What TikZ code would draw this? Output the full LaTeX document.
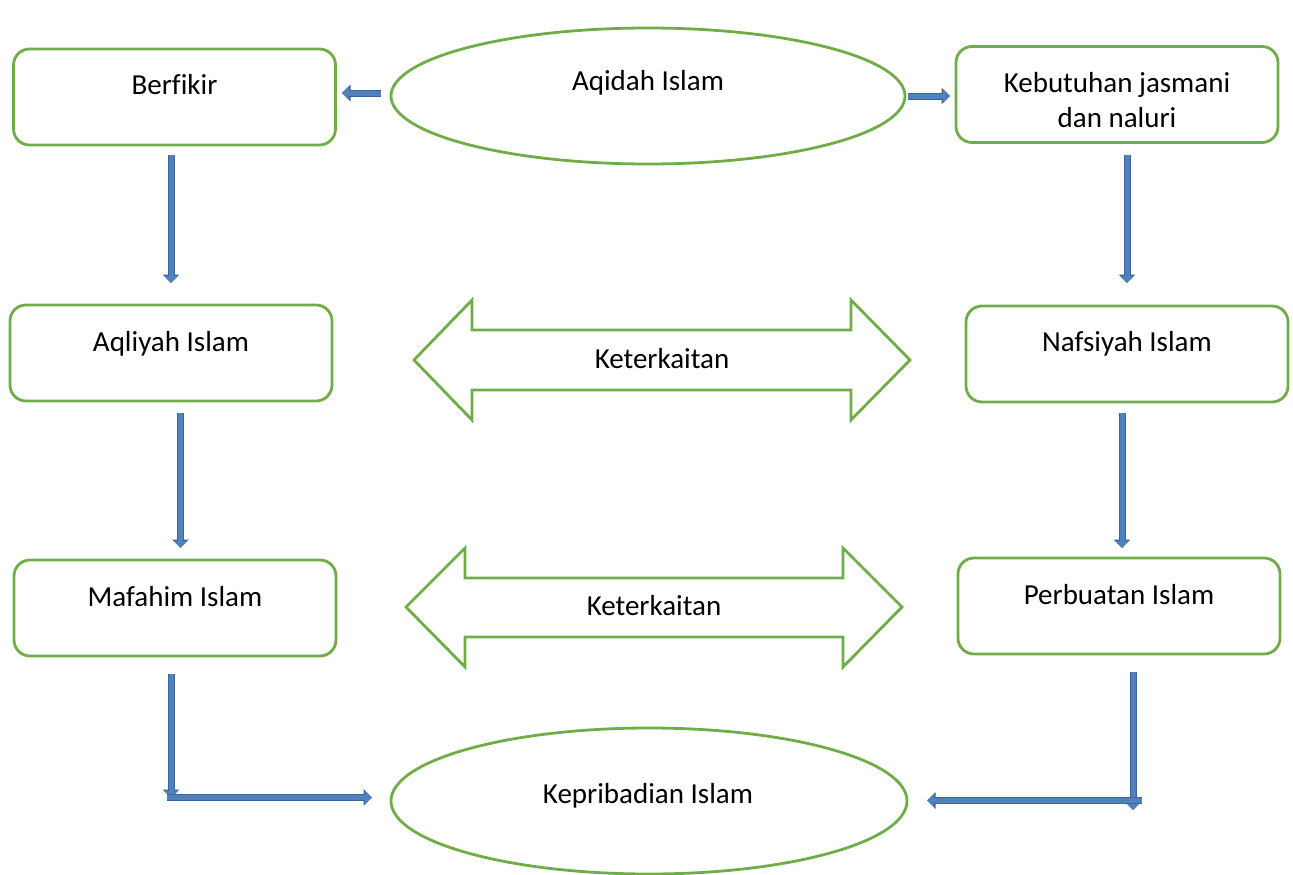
\documentclass[tikz,border=0pt]{standalone}
\usepackage{fontspec}
\setmainfont{Carlito}[Ligatures=NoCommon]
\usetikzlibrary{arrows.meta,shapes.geometric}
\definecolor{grn}{HTML}{70AD47}
\definecolor{blu}{HTML}{4F81BD}
\definecolor{bludark}{HTML}{3A6598}
\begin{document}
\begin{tikzpicture}[x=1pt,y=-1pt,
  box/.style={draw=grn, line width=2.8pt, rounded corners=16pt, minimum width=322pt, minimum height=96pt, inner sep=0pt},
  oval/.style={draw=grn, line width=2.8pt, ellipse, inner sep=0pt},
  txt/.style={font=\fontsize{29}{35}\selectfont, anchor=base, inner sep=0pt, align=center},
  dblarrow/.style={draw=grn, line width=2.8pt, line join=miter},
  blk/.style={line width=5pt, draw=blu, -{Triangle[length=7pt,width=13pt]},
    preaction={draw=bludark, line width=7pt, -{Triangle[length=8.5pt,width=16pt]}}}
]
\useasboundingbox (0,0) rectangle (1293,875);

% boxes
\node[box] (berf) at (174.5,97) {};
\node[box] (kebu) at (1117,94.5) {};
\node[box] (aqli) at (171,353) {};
\node[box] (nafs) at (1127,354) {};
\node[box] (mafa) at (175,608) {};
\node[box] (perb) at (1119,606) {};

% ellipses
\node[oval, minimum width=514pt, minimum height=136pt] (aqid) at (648,96) {};
\node[oval, minimum width=516pt, minimum height=146pt] (kepr) at (649,801) {};

% texts
\node[txt] (tberf) at ([yshift=2pt]berf.center) {Berfikir};
\node[txt] (taqli) at ([yshift=2pt]aqli.center) {Aqliyah Islam};
\node[txt] (tnafs) at ([yshift=3pt]nafs.center) {Nafsiyah Islam};
\node[txt] (tmafa) at ([yshift=2pt]mafa.center) {Mafahim Islam};
\node[txt] (tperb) at ([yshift=2pt]perb.center) {Perbuatan Islam};
\node[txt] (taqid) at (648,90) {Aqidah Islam};
\node[txt] (tkepr) at (648,803) {Kepribadian Islam};
\node[txt, anchor=center] (tkebu) at (1117,100) {Kebutuhan jasmani\\dan naluri};

% double arrows (Keterkaitan)
\draw[dblarrow] (414,360) -- (472,300) -- (472,330) -- (851,330) -- (851,300) -- (910,360)
  -- (851,420) -- (851,390) -- (472,390) -- (472,420) -- cycle;
\node[txt] (k1) at (662,368) {Keterkaitan};
\draw[dblarrow] (406,607) -- (465,548) -- (465,578) -- (843,578) -- (843,548) -- (902,607)
  -- (843,667) -- (843,637) -- (465,637) -- (465,667) -- cycle;
\node[txt] (k2) at (654,615) {Keterkaitan};

% arrow end coordinates
\coordinate (a1s) at (381,93);   \coordinate (a1e) at (342,93);
\coordinate (a2s) at (908,96);   \coordinate (a2e) at (950,96);
\coordinate (a3s) at (171,155);  \coordinate (a3e) at (171,283);
\coordinate (a4s) at (1127,155); \coordinate (a4e) at (1127,283);
\coordinate (a5s) at (180.5,413);\coordinate (a5e) at (180.5,548);
\coordinate (a6s) at (1122,413); \coordinate (a6e) at (1122,548);
\coordinate (a7s) at (171,674);  \coordinate (a7e) at (171,798);
\coordinate (a8s) at (167,797.5);\coordinate (a8e) at (372,797.5);
\coordinate (a9s) at (1133,672); \coordinate (a9e) at (1133,810);
\coordinate (a10s) at (1142,800.5); \coordinate (a10e) at (927,800.5);

% blue arrows
\draw[blk] (a1s) -- (a1e);
\draw[blk] (a2s) -- (a2e);
\draw[blk] (a3s) -- (a3e);
\draw[blk] (a4s) -- (a4e);
\draw[blk] (a5s) -- (a5e);
\draw[blk] (a6s) -- (a6e);
\draw[blk] (a7s) -- (a7e);
\draw[blk] (a8s) -- (a8e);
\draw[blk] (a9s) -- (a9e);
\draw[blk] (a10s) -- (a10e);
\end{tikzpicture}
\end{document}
